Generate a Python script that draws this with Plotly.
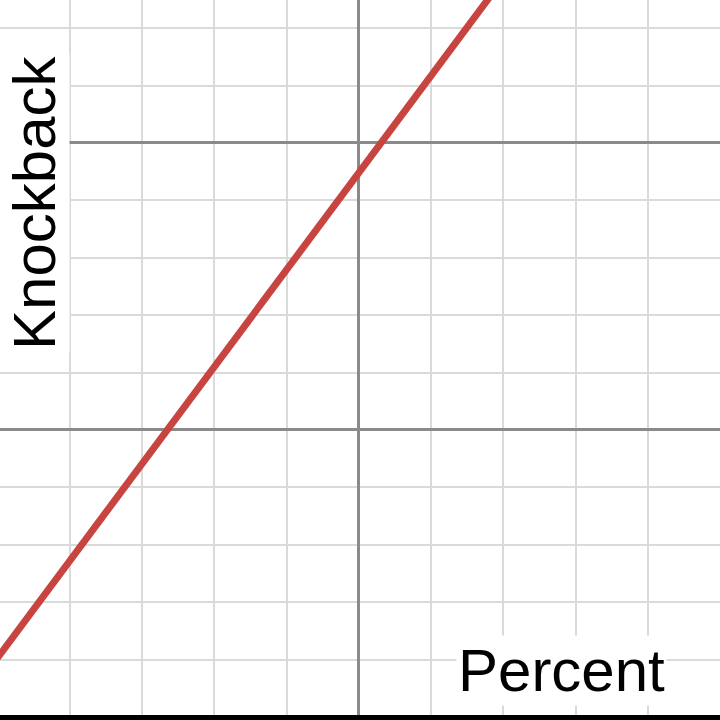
import plotly.graph_objects as go

# Data
percent = [0.0, 7.0]
knockback = [1.03, 12.86]

x_label = "Percent"
y_label = "Knockback"

fig = go.Figure()
fig.add_trace(go.Scatter(
    x=percent, y=knockback, mode="lines",
    line=dict(color="#c74440", width=7),
    showlegend=False, hoverinfo="skip",
))

fig.update_layout(
    width=720, height=720,
    margin=dict(l=0, r=0, t=0, b=0),
    paper_bgcolor="white", plot_bgcolor="white",
    font=dict(family="Liberation Sans, Arial, sans-serif", color="black"),
    xaxis=dict(
        range=[0.035, 9.999], dtick=5, tick0=0,
        showgrid=True, gridcolor="#8a8a8a", gridwidth=2.5,
        minor=dict(dtick=1, tick0=0, showgrid=True, gridcolor="#dadada", gridwidth=2),
        showticklabels=False, zeroline=False, showline=False, ticks="",
        fixedrange=True,
    ),
    yaxis=dict(
        range=[-0.052, 12.49], dtick=5, tick0=0,
        showgrid=True, gridcolor="#8a8a8a", gridwidth=2.5,
        minor=dict(dtick=1, tick0=0, showgrid=True, gridcolor="#dadada", gridwidth=2),
        showticklabels=False, zeroline=True, zerolinecolor="black", zerolinewidth=5,
        showline=False, ticks="", fixedrange=True,
    ),
    annotations=[
        dict(text=x_label, xref="paper", yref="paper", x=561/720, y=1 - 670/720,
             xanchor="center", yanchor="middle", showarrow=False,
             font=dict(size=60, color="black"), bgcolor="white"),
        dict(text=y_label, xref="paper", yref="paper", x=34/720, y=1 - 203/720,
             xanchor="center", yanchor="middle", showarrow=False, textangle=-90,
             font=dict(size=60, color="black"), bgcolor="white"),
    ],
)

fig.write_html(
    "out.html",
    config={"displayModeBar": False},
    post_script="document.body.style.margin='0';document.body.style.overflow='hidden';",
)
